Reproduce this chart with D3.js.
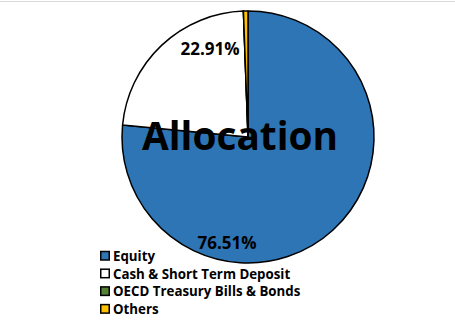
<!DOCTYPE html>
<html>
<head>
<meta charset="utf-8">
<script src="https://cdn.jsdelivr.net/npm/d3@7"></script>
<style>
  body { margin: 0; background: #fff; }
  svg { display: block; font-family: "Open Sans", "Noto Sans", sans-serif; }
</style>
</head>
<body>
<svg width="455" height="320"></svg>
<script>
const categories = ["Equity", "Cash & Short Term Deposit", "OECD Treasury Bills & Bonds", "Others"];
const values = [76.51, 22.91, 0, 0.58];
const colors = ["#2E75B6", "#FFFFFF", "#548235", "#FFC000"];
const shownLabels = ["76.51%", "22.91%", "", ""];

const svg = d3.select("svg");

// thin grey frame line at the top
svg.append("line")
  .attr("x1", 0).attr("x2", 455)
  .attr("y1", 1.5).attr("y2", 1.5)
  .attr("stroke", "#d9d9d9")
  .attr("stroke-width", 1);

const cx = 248, cy = 137, r = 126;

const pie = d3.pie().sort(null).value(d => d)(values);
const arc = d3.arc().innerRadius(0).outerRadius(r);

const g = svg.append("g").attr("transform", `translate(${cx},${cy})`);

g.selectAll("path")
  .data(pie)
  .join("path")
  .attr("d", arc)
  .attr("fill", (d, i) => colors[i])
  .attr("stroke", "#000")
  .attr("stroke-width", 1.5)
  .attr("stroke-linejoin", "round");

// data labels
const labelPos = [[-21, 112], [-38, -82]];
g.selectAll("text.lbl")
  .data(pie.filter((d, i) => shownLabels[i]))
  .join("text")
  .attr("class", "lbl")
  .attr("x", (d, i) => labelPos[i][0])
  .attr("y", (d, i) => labelPos[i][1])
  .attr("text-anchor", "middle")
  .attr("font-size", 17)
  .attr("font-weight", "bold")
  .attr("fill", "#000")
  .text(d => shownLabels[d.index]);

// title overlay
const title = svg.append("text")
  .attr("x", 240)
  .attr("y", 150)
  .attr("text-anchor", "middle")
  .attr("font-size", 42)
  .attr("font-weight", "bold")
  .attr("fill", "#000")
  .text("Allocation");
const tl = title.node().getComputedTextLength();
if (tl > 0) title.attr("font-size", 42 * 196 / tl);

// legend
const legend = svg.append("g").attr("transform", "translate(100,250)");
const items = legend.selectAll("g")
  .data(categories)
  .join("g")
  .attr("transform", (d, i) => `translate(0,${i * 17.7})`);

items.append("rect")
  .attr("x", 0.75).attr("y", 1.5)
  .attr("width", 8.5).attr("height", 8.5)
  .attr("fill", (d, i) => colors[i])
  .attr("stroke", "#000")
  .attr("stroke-width", 1.5);

items.append("text")
  .attr("x", 13)
  .attr("y", 11)
  .attr("font-size", 13.3)
  .attr("font-weight", "bold")
  .attr("fill", "#000")
  .text(d => d);
</script>
</body>
</html>
